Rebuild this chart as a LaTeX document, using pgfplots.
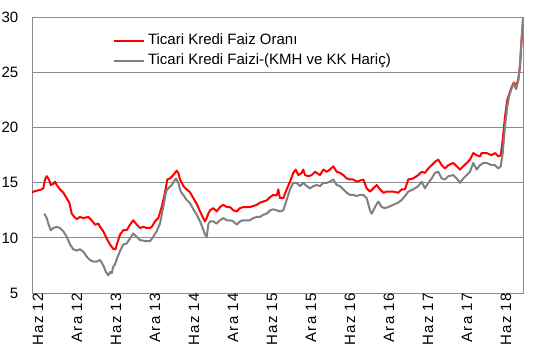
\documentclass[border=0pt]{standalone}
\usepackage{pgfplots}
\pgfplotsset{compat=1.18}
\usepackage{fontspec}
\setmainfont{Liberation Sans}
\newfontfamily\xlabfont[LetterSpace=8]{Liberation Sans}
\definecolor{redl}{RGB}{255,0,0}
\definecolor{grayl}{RGB}{128,128,128}
\definecolor{gridc}{RGB}{140,140,140}
\begin{document}
\begin{tikzpicture}
\useasboundingbox (-32bp,-71bp) rectangle (509bp,293bp);
\begin{axis}[
  at={(0,0)}, anchor=south west,
  scale only axis, width=491bp, height=275.5bp,
  xmin=0, xmax=75.54, ymin=5, ymax=30,
  xtick={0,6,...,72},
  xticklabels={Haz 12,Ara 12,Haz 13,Ara 13,Haz 14,Ara 14,Haz 15,Ara 15,Haz 16,Ara 16,Haz 17,Ara 17,Haz 18},
  ytick={5,10,...,30},
  major tick length=0pt,
  ymajorgrids, grid style={gridc, line width=1bp},
  axis line style={gridc, line width=1bp},
  /pgf/number format/assume math mode=true,
  xticklabel style={font=\xlabfont\fontsize{15bp}{18bp}\selectfont, rotate=90, anchor=east, inner sep=0pt, yshift=-6bp},
  yticklabel style={font=\fontsize{15bp}{18bp}\selectfont, anchor=east, inner sep=0pt, xshift=-13.5bp},
  legend style={draw=none, fill=none, at={(0.165,0.951)}, anchor=north west, inner sep=0pt, outer sep=0pt,
    font=\fontsize{15bp}{18bp}\selectfont, row sep=0pt,
    nodes={text height=11bp, text depth=3bp, inner sep=3bp}},
  legend cell align=left,
  legend image code/.code={\draw[#1] (0bp,0bp) -- (30bp,0bp);},
]
\addplot[redl, line width=2bp, line join=round] coordinates {
(0,14.1)(0.2,14.2)(1.49,14.4)(1.74,14.5)(2.0,15.3)(2.26,15.6)(2.62,15.3)(2.88,14.8)(3.28,14.9)(3.54,15.1)
(3.8,14.8)(4.31,14.4)(4.82,14.1)(5.34,13.6)(5.74,13.2)(6.11,12.2)(6.51,11.9)(6.88,11.7)(7.38,11.9)(7.89,11.8)
(8.66,11.9)(9.18,11.6)(9.69,11.2)(10.2,11.3)(10.46,11.0)(10.97,10.6)(11.49,9.95)(12.0,9.4)(12.51,9.0)(12.85,8.97)
(13.1,9.5)(13.54,10.3)(14.05,10.7)(14.57,10.7)(15.08,11.2)(15.58,11.6)(16.11,11.2)(16.62,10.9)(17.12,11.0)(17.65,10.9)
(18.15,10.9)(18.42,11.0)(18.92,11.5)(19.43,11.8)(19.95,12.8)(20.46,14.1)(20.82,15.3)(21.23,15.4)(21.74,15.7)(22.26,16.1)
(22.51,15.9)(22.77,15.3)(23.28,14.7)(23.8,14.4)(24.31,14.15)(24.82,13.6)(25.34,13.1)(25.85,12.4)(26.26,11.9)(26.62,11.5)
(26.88,11.8)(27.12,12.2)(27.38,12.5)(27.89,12.7)(28.41,12.4)(28.92,12.8)(29.43,13.0)(29.95,12.8)(30.46,12.8)(30.97,12.5)
(31.49,12.4)(32.0,12.7)(32.51,12.8)(33.03,12.8)(33.54,12.8)(34.05,12.9)(34.57,13.0)(35.08,13.2)(35.58,13.3)(36.11,13.4)
(36.62,13.7)(37.12,13.9)(37.65,13.85)(37.89,14.4)(38.15,13.6)(38.66,13.6)(39.18,14.4)(39.69,15.1)(40.2,15.9)(40.57,16.2)
(40.97,15.7)(41.49,15.9)(41.74,16.2)(42.0,15.7)(42.51,15.6)(43.03,15.7)(43.54,16.0)(43.8,15.9)(44.31,15.7)(44.82,16.2)
(45.34,16.0)(45.85,16.2)(46.35,16.5)(46.88,16.0)(47.38,15.9)(47.89,15.7)(48.42,15.4)(48.92,15.3)(49.43,15.3)(49.95,15.1)
(50.46,15.2)(50.97,15.3)(51.49,14.5)(52.0,14.2)(52.51,14.5)(53.03,14.8)(53.54,14.4)(54.05,14.1)(54.57,14.2)(55.58,14.2)
(56.35,14.1)(56.88,14.4)(57.38,14.4)(57.89,15.3)(58.66,15.4)(59.43,15.7)(59.95,16.0)(60.46,15.9)(60.97,16.3)(61.49,16.6)
(62.0,16.9)(62.51,17.1)(63.03,16.6)(63.54,16.3)(64.05,16.6)(64.82,16.8)(65.34,16.5)(65.85,16.2)(66.35,16.5)(66.88,16.8)
(67.38,17.1)(67.89,17.7)(68.42,17.5)(68.92,17.4)(69.18,17.7)(69.95,17.7)(70.72,17.5)(71.23,17.7)(71.74,17.4)(72.11,17.5)
(72.42,18.9)(72.77,21.0)(73.12,22.5)(73.28,22.8)(73.8,23.7)(74.15,24.1)(74.46,23.7)(74.82,24.4)(75.08,25.6)(75.34,28.0)
(75.54,29.4)
};
\addlegendentry{Ticari Kredi Faiz Oranı}
\addplot[grayl, line width=2bp, line join=round] coordinates {
(1.89,12.2)(2.26,11.8)(2.51,11.3)(2.88,10.7)(3.28,10.9)(3.8,11.0)(4.31,10.9)(4.82,10.6)(5.34,10.1)(5.85,9.4)
(6.35,8.97)(6.88,8.85)(7.38,8.97)(7.89,8.75)(8.42,8.3)(8.92,8.0)(9.43,7.85)(9.95,7.85)(10.46,8.0)(10.97,7.5)
(11.38,6.9)(11.74,6.6)(12.0,6.9)(12.26,6.8)(12.51,7.4)(12.77,7.6)(13.12,8.2)(13.54,8.8)(14.05,9.4)(14.57,9.5)
(15.08,9.95)(15.58,10.4)(16.11,10.1)(16.62,9.8)(17.12,9.75)(17.65,9.7)(18.15,9.7)(18.66,10.1)(19.18,10.6)(19.69,11.3)
(20.2,12.8)(20.62,14.2)(20.97,14.5)(21.49,14.8)(22.15,15.4)(22.51,15.0)(22.88,14.2)(23.28,13.9)(23.8,13.45)(24.31,13.15)
(24.82,12.6)(25.34,12.1)(25.85,11.5)(26.26,10.9)(26.62,10.3)(26.88,10.1)(27.12,11.2)(27.38,11.5)(27.89,11.5)(28.41,11.3)
(28.92,11.6)(29.43,11.8)(29.95,11.6)(30.46,11.6)(30.97,11.5)(31.49,11.2)(32.0,11.5)(32.51,11.6)(33.03,11.6)(33.54,11.6)
(34.05,11.8)(34.57,11.9)(35.08,11.9)(35.58,12.1)(36.11,12.2)(36.62,12.5)(37.12,12.6)(37.65,12.5)(38.15,12.4)(38.66,12.5)
(39.18,13.45)(39.69,14.4)(40.2,15.0)(40.72,15.0)(41.23,14.7)(41.74,15.0)(42.26,14.7)(42.77,14.5)(43.28,14.7)(43.8,14.8)
(44.31,14.7)(44.82,15.0)(45.34,15.0)(45.85,15.1)(46.35,15.3)(46.88,14.8)(47.38,14.7)(47.89,14.4)(48.42,14.1)(48.92,13.9)
(49.43,13.9)(49.95,13.8)(50.46,13.9)(50.97,13.9)(51.49,13.6)(52.0,12.5)(52.26,12.2)(52.77,12.8)(53.28,13.3)(53.8,12.8)
(54.31,12.7)(54.82,12.8)(55.58,13.0)(56.35,13.2)(56.88,13.45)(57.38,13.8)(57.89,14.2)(58.66,14.4)(59.43,14.7)(59.95,15.1)
(60.46,14.5)(60.97,15.0)(61.49,15.4)(62.0,15.9)(62.51,16.0)(63.03,15.4)(63.54,15.3)(64.05,15.6)(64.82,15.7)(65.34,15.4)
(65.85,15.0)(66.35,15.4)(66.88,15.7)(67.38,16.0)(67.89,16.8)(68.42,16.2)(68.92,16.6)(69.43,16.8)(69.95,16.8)(70.72,16.6)
(71.23,16.6)(71.74,16.3)(72.11,16.5)(72.42,17.7)(72.77,20.1)(73.12,21.9)(73.38,22.8)(73.8,23.6)(74.15,24.0)(74.46,23.5)
(74.82,24.3)(75.08,25.8)(75.34,28.3)(75.54,30.0)
};
\addlegendentry{Ticari Kredi Faizi-(KMH ve KK Hariç)}
\end{axis}
\end{tikzpicture}
\end{document}
